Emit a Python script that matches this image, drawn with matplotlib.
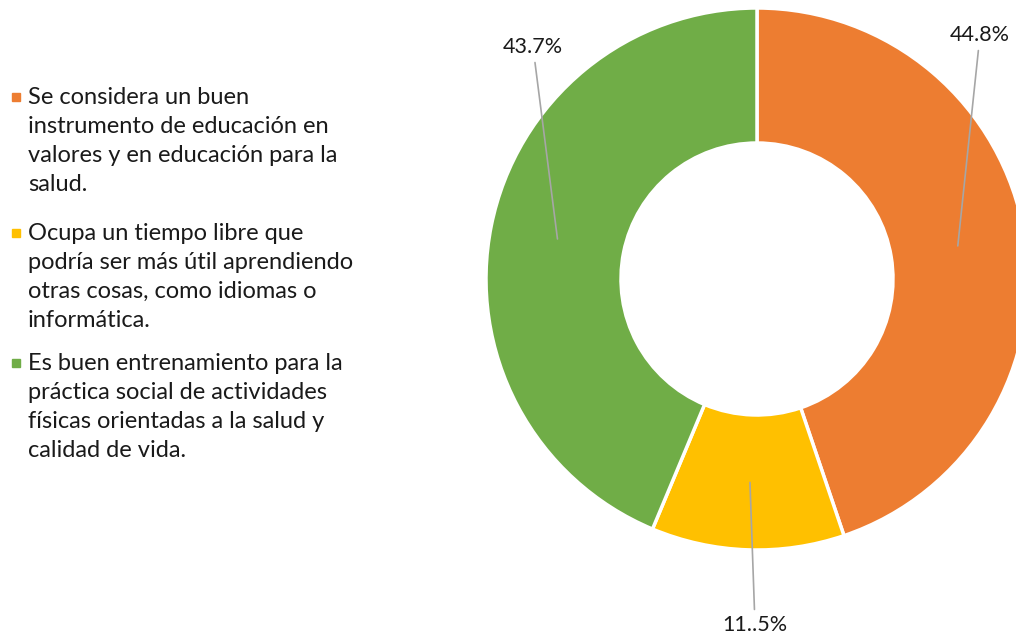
import numpy as np
import matplotlib.pyplot as plt
from matplotlib.patches import Rectangle

# respuestas y porcentajes
categorias = [
    "Se considera un buen\ninstrumento de educación en\nvalores y en educación para la\nsalud.",
    "Ocupa un tiempo libre que\npodría ser más útil aprendiendo\notras cosas, como idiomas o\ninformática.",
    "Es buen entrenamiento para la\npráctica social de actividades\nfísicas orientadas a la salud y\ncalidad de vida.",
]
porcentajes = [44.8, 11.5, 43.7]
etiquetas = ["44.8%", "11..5%", "43.7%"]
colores = ["#ED7D31", "#FFC000", "#70AD47"]

W, H = 1016, 637
plt.rcParams['font.family'] = ['Lato', 'DejaVu Sans']

fig = plt.figure(figsize=(W / 100, H / 100), dpi=100)
ax = fig.add_axes([0, 0, 1, 1])

cx, cy, radio, grosor = 757, H - 279, 271, 135
wedges, _ = ax.pie(porcentajes, colors=colores, startangle=90, counterclock=False,
                   radius=radio, center=(cx, cy),
                   wedgeprops=dict(width=grosor, edgecolor='white', linewidth=2.5))
ax.set_xlim(0, W)
ax.set_ylim(0, H)
ax.set_aspect('equal')
ax.axis('off')

# etiquetas de datos con líneas guía
pos_etiquetas = [(980, H - 35), (755, H - 625), (533, H - 47)]
r_medio = radio - grosor / 2
for w, txt, pos in zip(wedges, etiquetas, pos_etiquetas):
    ang = np.deg2rad((w.theta1 + w.theta2) / 2)
    px = cx + r_medio * np.cos(ang)
    py = cy + r_medio * np.sin(ang)
    ax.annotate(txt, xy=(px, py), xytext=pos, ha='center', va='center',
                fontsize=15.5, color='#1a1a1a',
                arrowprops=dict(arrowstyle='-', color='#A6A6A6', lw=1.2,
                                shrinkA=2, shrinkB=0))

# leyenda a la izquierda
y_entradas = [97, 233, 363]
for texto, color, y in zip(categorias, colores, y_entradas):
    fig.patches.append(Rectangle((12 / W, (H - y - 4) / H), 8 / W, 8 / H,
                                 transform=fig.transFigure, color=color))
    fig.text(28 / W, (H - y + 10) / H, texto, ha='left', va='top',
             fontsize=17, color='#1a1a1a', linespacing=1.48)

fig.savefig('out.png', dpi=100)
